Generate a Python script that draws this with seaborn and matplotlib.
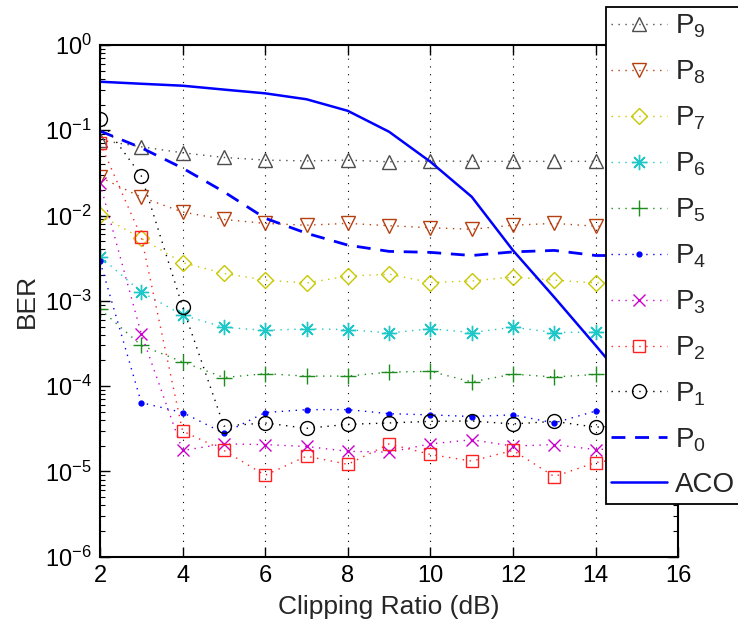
import matplotlib
matplotlib.use("Agg")
import matplotlib.pyplot as plt
from matplotlib.ticker import NullLocator, FixedLocator, LogLocator
import seaborn as sns
import pandas as pd

# clipping ratio (dB); the x=15 points sit under the legend
clip_db = [2, 3, 4, 5, 6, 7, 8, 9, 10, 11, 12, 13, 14, 15]

p9 = [0.0767, 0.064, 0.0544, 0.048, 0.0447, 0.0437, 0.0447, 0.0427, 0.0437, 0.0432, 0.0432, 0.0432, 0.0432, 0.043]
p8 = [0.0282, 0.0164, 0.011, 9.0e-3, 8.1e-3, 7.7e-3, 8.1e-3, 7.6e-3, 7.2e-3, 6.9e-3, 7.7e-3, 8.1e-3, 7.5e-3, 7.5e-3]
p7 = [0.0101, 5.4e-3, 2.8e-3, 2.1e-3, 1.75e-3, 1.62e-3, 1.95e-3, 2.05e-3, 1.64e-3, 1.71e-3, 1.9e-3, 1.75e-3, 1.62e-3, 1.7e-3]
p6 = [3.3e-3, 1.27e-3, 6.8e-4, 4.9e-4, 4.5e-4, 4.7e-4, 4.6e-4, 4.2e-4, 4.7e-4, 4.25e-4, 4.9e-4, 4.25e-4, 4.3e-4, 4.4e-4]
p5 = [8.0e-4, 3.0e-4, 1.92e-4, 1.26e-4, 1.4e-4, 1.31e-4, 1.31e-4, 1.46e-4, 1.49e-4, 1.12e-4, 1.38e-4, 1.28e-4, 1.37e-4, 1.35e-4]
p4 = [2.9e-3, 6.4e-5, 4.9e-5, 2.8e-5, 4.9e-5, 5.3e-5, 5.3e-5, 4.75e-5, 4.6e-5, 4.4e-5, 4.6e-5, 3.7e-5, 5.1e-5, 5.0e-5]
p3 = [0.0238, 4.1e-4, 1.76e-5, 2.1e-5, 2.06e-5, 1.96e-5, 1.72e-5, 1.68e-5, 2.1e-5, 2.35e-5, 1.98e-5, 2.06e-5, 1.8e-5, 1.9e-5]
p2 = [0.0714, 5.6e-3, 2.97e-5, 1.76e-5, 9.0e-6, 1.51e-5, 1.21e-5, 2.1e-5, 1.58e-5, 1.32e-5, 1.76e-5, 8.7e-6, 1.27e-5, 1.5e-5]
p1 = [0.134, 0.0292, 8.5e-4, 3.4e-5, 3.7e-5, 3.2e-5, 3.56e-5, 3.7e-5, 3.86e-5, 3.9e-5, 3.6e-5, 3.86e-5, 3.3e-5, 3.5e-5]
p0 = [0.098, 0.0623, 0.036, 0.019, 9.3e-3, 6.2e-3, 4.5e-3, 3.8e-3, 3.7e-3, 3.4e-3, 3.75e-3, 3.9e-3, 3.4e-3, 3.4e-3]
aco = [0.371, 0.351, 0.333, 0.30, 0.271, 0.231, 0.169, 0.096, 0.0427, 0.0166, 3.9e-3, 1.1e-3, 3.0e-4, 8e-5]

ber_ticks = [1e-6, 1e-5, 1e-4, 1e-3, 1e-2, 1e-1, 1e0]

dots = (0, (1, 4))
series = [
    ("P$_9$", p9, "#4d4d4d", "^", 10),
    ("P$_8$", p8, "#b5400f", "v", 10),
    ("P$_7$", p7, "#c8c800", "D", 8),
    ("P$_6$", p6, "#1fc8c8", (8, 2, 0), 11),
    ("P$_5$", p5, "#1f8c1f", "+", 12),
    ("P$_4$", p4, "#0000ff", ".", 7),
    ("P$_3$", p3, "#cc00cc", "x", 8),
    ("P$_2$", p2, "#ff2020", "s", 9),
    ("P$_1$", p1, "#000000", "o", 10),
]

sns.set_style("ticks")
plt.rcParams["font.family"] = ["Liberation Sans", "DejaVu Sans"]
plt.rcParams["mathtext.fontset"] = "custom"
plt.rcParams["mathtext.rm"] = "Liberation Sans"
plt.rcParams["mathtext.it"] = "Liberation Sans"

fig = plt.figure(figsize=(7.38, 6.24), dpi=100)
ax = fig.add_axes([0.1355, 0.1079, 0.7835, 0.8200])

for label, vals, col, mk, ms in series:
    df = pd.DataFrame({"x": clip_db, "y": vals})
    face = col if mk == "." else "none"
    sns.lineplot(data=df, x="x", y="y", ax=ax, color=col, linestyle=dots, linewidth=1.0,
                 marker=mk, markersize=ms, markerfacecolor=face, markeredgecolor=col,
                 markeredgewidth=1.0, label=label)

sns.lineplot(x=clip_db, y=p0, ax=ax, color="#0000ff", linestyle=(0, (5, 3.5)),
             linewidth=2.0, label="P$_0$")
sns.lineplot(x=clip_db, y=aco, ax=ax, color="#0000ff", linestyle="-",
             linewidth=1.8, label="ACO")

ax.set_yscale("log")
ax.set_xlim(2, 16)
ax.set_ylim(1e-6, 1)
ax.set_xticks(range(2, 17, 2))
ax.xaxis.set_minor_locator(NullLocator())
ax.yaxis.set_major_locator(FixedLocator(ber_ticks))
ax.yaxis.set_minor_locator(LogLocator(base=10, subs=range(2, 10), numticks=20))
ax.tick_params(which="both", direction="in", top=True, right=True, colors="k", labelsize=17)
ax.tick_params(which="major", length=7, width=1.0, pad=6)
ax.tick_params(which="minor", length=3.5, width=0.8, labelleft=False)
for sp in ax.spines.values():
    sp.set_linewidth(1.5)
    sp.set_color("k")
ax.grid(axis="x", which="major", color="k", linestyle=(0, (1, 6)), linewidth=0.8)

ax.set_xlabel("Clipping Ratio (dB)", fontsize=19, labelpad=6)
ax.set_ylabel("BER", fontsize=19, labelpad=4)

leg = ax.legend(loc="upper left", bbox_to_anchor=(0.8207, 0.989), bbox_transform=fig.transFigure,
                fontsize=20, frameon=True, fancybox=False, edgecolor="k", framealpha=1,
                handlelength=2.0, handletextpad=0.3, labelspacing=0.665, borderpad=0.2,
                borderaxespad=0)
leg.get_frame().set_linewidth(1.3)

fig.savefig("out.png", dpi=100)
